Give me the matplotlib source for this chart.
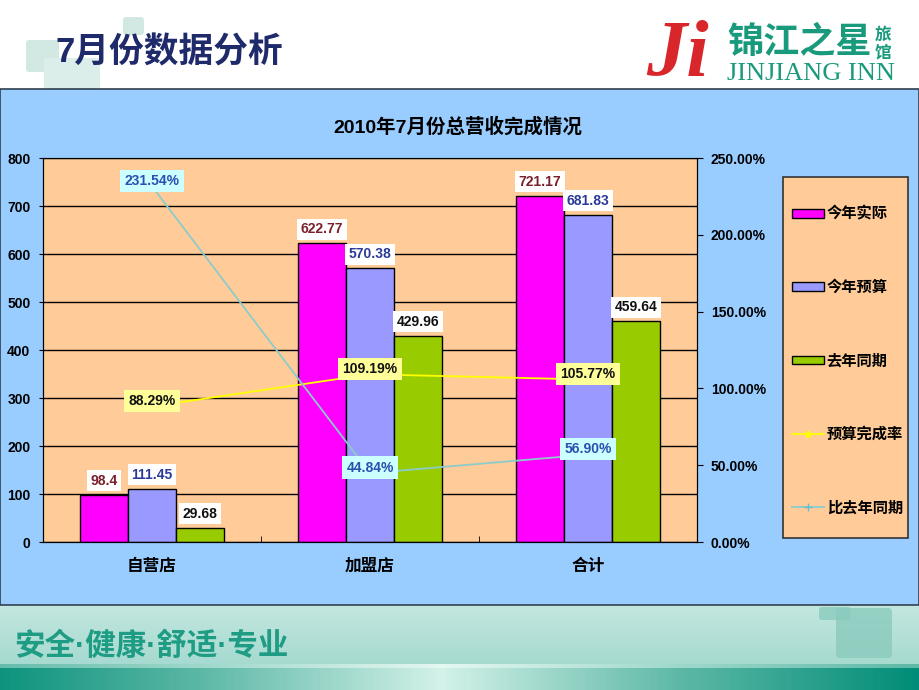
import numpy as np
import matplotlib
matplotlib.use('Agg')
import matplotlib.pyplot as plt
from matplotlib.patches import Rectangle, FancyBboxPatch, Patch
from matplotlib.lines import Line2D
from matplotlib.colors import LinearSegmentedColormap
from matplotlib.ticker import FuncFormatter

plt.rcParams['font.family'] = ['Liberation Sans', 'Noto Sans CJK SC', 'DejaVu Sans']

# data
categories = ['自营店', '加盟店', '合计']
actual = [98.4, 622.77, 721.17]        # 今年实际
budget = [111.45, 570.38, 681.83]      # 今年预算
last_year = [29.68, 429.96, 459.64]    # 去年同期
budget_rate = [88.29, 109.19, 105.77]  # 预算完成率 (%)
yoy_rate = [231.54, 44.84, 56.90]      # 比去年同期 (%)

fig = plt.figure(figsize=(9.2, 6.9), dpi=100)

# page decoration, drawn in pixel coords
bg = fig.add_axes([0, 0, 1, 1], zorder=0)
bg.set_xlim(0, 920)
bg.set_ylim(690, 0)
bg.axis('off')

for (x0, y0, w, h, c) in [(26, 40, 33, 32, '#D2E9E3'), (44, 58, 56, 32, '#DCEEEA'),
                          (123, 17, 21, 18, '#D2E9E3')]:
    bg.add_patch(FancyBboxPatch((x0, y0), w, h, boxstyle='round,pad=0,rounding_size=3',
                                fc=c, ec='none'))

bg.text(56, 53, '7月份数据分析', fontsize=25, fontweight='bold', color='#1F2A6B',
        va='center', ha='left')

# logo
bg.text(677, 56, 'Ji', fontsize=58, fontweight='bold', style='italic', color='#D8262B',
        family='Liberation Serif', ha='center', va='center')
bg.text(727, 44, '锦江之星', fontsize=26, fontweight='bold', color='#1A9A7C',
        ha='left', va='center')
bg.text(883, 35, '旅', fontsize=12, fontweight='bold', color='#1A9A7C', ha='center', va='center')
bg.text(883, 53, '馆', fontsize=12, fontweight='bold', color='#1A9A7C', ha='center', va='center')
bg.text(727, 74, 'JINJIANG INN', fontsize=19, color='#1A9A7C', family='Liberation Serif',
        ha='left', va='center')

# chart panel
bg.add_patch(Rectangle((0, 89), 919, 516, fc='#99CCFF', ec='#2F3F4F', lw=1.2))

# bottom band
band = np.linspace(0, 1, 64).reshape(-1, 1)
band_cmap = LinearSegmentedColormap.from_list('band', ['#C2E7DF', '#A5D9CF'])
bg.imshow(band, cmap=band_cmap, extent=(0, 920, 667, 606), aspect='auto', zorder=0)
stripe = np.abs(np.linspace(-1, 1, 256) + 0.04).reshape(1, -1)
stripe_cmap = LinearSegmentedColormap.from_list('stripe', ['#D2F1E8', '#5DB8A6', '#008D78'])
bg.imshow(stripe, cmap=stripe_cmap, extent=(0, 920, 690, 668), aspect='auto', zorder=0)
bg.imshow(stripe, cmap=LinearSegmentedColormap.from_list('s2', ['#E4F7F1', '#9ED8CB', '#5DB8A6']),
          extent=(0, 920, 668, 664), aspect='auto', zorder=0)
bg.add_patch(FancyBboxPatch((836, 608), 56, 50, boxstyle='round,pad=0,rounding_size=4',
                            fc='#8ACBBD', ec='none', alpha=0.8))
bg.add_patch(FancyBboxPatch((819, 607), 32, 13, boxstyle='round,pad=0,rounding_size=3',
                            fc='#8ACBBD', ec='none', alpha=0.8))
bg.text(14, 647, '安全·健康·舒适·专业', fontsize=22, fontweight='bold', color='#1E9C84',
        ha='left', va='center')

# legend frame
bg.add_patch(Rectangle((783, 177), 125, 361, fc='#FFCC99', ec='#333333', lw=1.2))

bg.text(458, 127, '2010年7月份总营收完成情况', fontsize=14, fontweight='bold', color='black',
        ha='center', va='center')

# main chart
ax = fig.add_axes([43 / 920, 1 - 542 / 690, 654 / 920, 384 / 690], zorder=1)
ax.set_facecolor('#FFCC99')
x = np.arange(len(categories))
width = 0.22

series = [
    ('今年实际', actual, '#FF00FF', '#7A1F2B'),
    ('今年预算', budget, '#9999FF', '#2B3A9A'),
    ('去年同期', last_year, '#99CC00', '#111111'),
]
for i, (name, vals, color, tcolor) in enumerate(series):
    rects = ax.bar(x + (i - 1) * width, vals, width, color=color, edgecolor='black',
                   linewidth=1, zorder=2)
    ax.bar_label(rects, labels=[f'{v:g}' for v in vals], padding=5, fontsize=10,
                 fontweight='bold', color=tcolor,
                 bbox=dict(boxstyle='square,pad=0.25', fc='white', ec='none'), zorder=4)

ax.set_xlim(-0.5, 2.5)
ax.set_ylim(0, 800)
ax.set_yticks(np.arange(0, 801, 100))
ax.yaxis.grid(True, color='black', lw=1)
ax.set_axisbelow(True)
ax.set_xticks(x, categories)
ax.set_xticks([0.5, 1.5], minor=True)
ax.tick_params(axis='x', which='major', length=0, pad=12, labelsize=12)
ax.tick_params(axis='x', which='minor', length=4, direction='in')
ax.tick_params(axis='y', length=3, labelsize=10, pad=6)
for lab in ax.get_xticklabels() + ax.get_yticklabels():
    lab.set_fontweight('bold')
for s in ['left', 'bottom', 'right']:
    ax.spines[s].set_color('black')
ax.spines['top'].set_color('#888888')

ax2 = ax.twinx()
ax2.set_ylim(0, 250)
ax2.set_yticks(np.arange(0, 251, 50))
ax2.yaxis.set_major_formatter(FuncFormatter(lambda v, _: f'{v:.2f}%'))
ax2.tick_params(axis='y', length=4, labelsize=10, pad=6)
for lab in ax2.get_yticklabels():
    lab.set_fontweight('bold')
ax2.spines['right'].set_color('black')

ax2.plot(x, budget_rate, color='#FFFF00', lw=1.3, marker='*', ms=6, zorder=3)
ax2.plot(x, yoy_rate, color='#8CCBCB', lw=1.3, marker='+', ms=6, mec='#66BBCC', zorder=3)

for xi, v in zip(x, budget_rate):
    ax2.annotate(f'{v:.2f}%', (xi, v), xytext=(0, 4), textcoords='offset points',
                 ha='center', va='center', fontsize=10, fontweight='bold', color='#111111',
                 bbox=dict(boxstyle='square,pad=0.3', fc='#FFFF99', ec='none'), zorder=5)
for xi, v in zip(x, yoy_rate):
    ax2.annotate(f'{v:.2f}%', (xi, v), xytext=(0, 4), textcoords='offset points',
                 ha='center', va='center', fontsize=10, fontweight='bold', color='#2A50B0',
                 bbox=dict(boxstyle='square,pad=0.3', fc='#CCFFFF', ec='none'), zorder=5)

handles = [Patch(fc=c, ec='black', lw=1) for _, _, c, _ in series]
handles += [Line2D([], [], color='#FFFF00', lw=1.3, marker='*', ms=6),
            Line2D([], [], color='#8CCBCB', lw=1.3, marker='+', ms=6, mec='#66BBCC')]
labels = [s[0] for s in series] + ['预算完成率', '比去年同期']
fig.legend(handles, labels, loc='center left', bbox_to_anchor=(784 / 920, 1 - 361 / 690),
           frameon=False, prop=dict(size=11, weight='bold'), labelspacing=3.85,
           handlelength=2.1, handleheight=0.5, handletextpad=0.2, borderpad=0)

fig.savefig('out.png', dpi=100)
